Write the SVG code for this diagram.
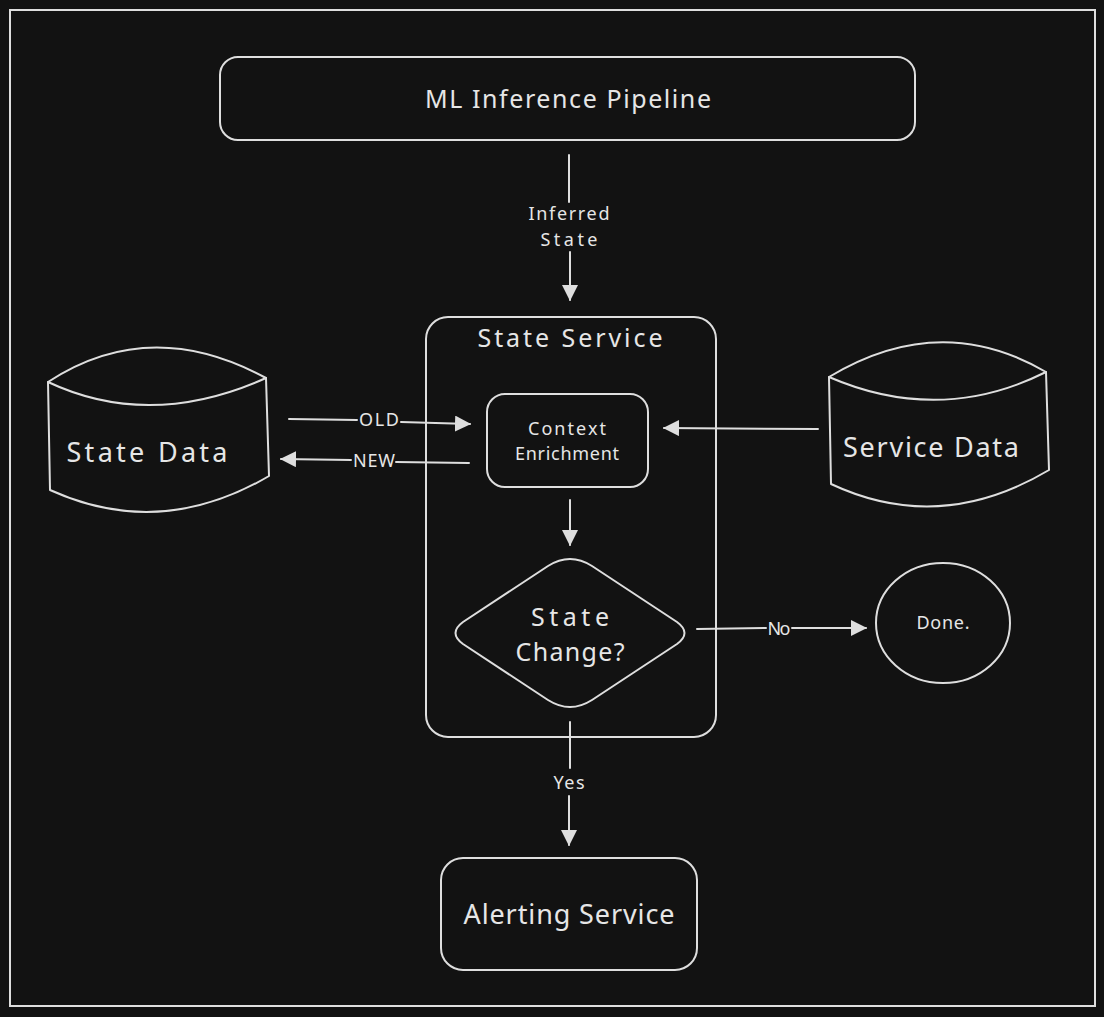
<svg xmlns="http://www.w3.org/2000/svg" width="1104" height="1017" viewBox="0 0 1104 1017">
<defs>
<style>
.s{fill:none;stroke:#dedede;stroke-width:2;stroke-linecap:round;stroke-linejoin:round}
.n{fill:#121212;stroke:#dedede;stroke-width:2;stroke-linejoin:round}
.t{fill:#e6e6e6;font-family:"Noto Sans","Liberation Sans",sans-serif;text-anchor:middle;dominant-baseline:central}
.lbl{font-size:18px}
</style>
<marker id="ah" viewBox="0 0 16 16" refX="15" refY="8" markerWidth="16" markerHeight="16" markerUnits="userSpaceOnUse" orient="auto">
<path d="M0,0 L16,8 L0,16 Z" fill="#dedede"/>
</marker>
</defs>
<rect x="0" y="0" width="1104" height="1017" fill="#121212"/>
<rect x="10" y="10" width="1085" height="996" fill="none" stroke="#dedede" stroke-width="2"/>

<g id="ml-pipeline">
<rect class="n" x="220" y="57" width="695" height="83" rx="18"/>
<text class="t" x="568" y="98" font-size="25" textLength="286" lengthAdjust="spacing">ML Inference Pipeline</text>
</g>

<g id="state-service">
<rect class="n" x="426" y="317" width="290" height="420" rx="22"/>
<text class="t" x="570" y="337" font-size="25" textLength="185" lengthAdjust="spacing">State Service</text>
</g>

<g id="context-enrichment">
<rect class="n" x="487" y="394" width="161" height="93" rx="18"/>
<text class="t" x="567" y="428" font-size="18" textLength="78" lengthAdjust="spacing">Context</text>
<text class="t" x="567" y="453" font-size="18" textLength="104" lengthAdjust="spacing">Enrichment</text>
</g>

<g id="state-change">
<path class="n" d="M548,566 Q570,552 592,566 L677,622 Q692,633 677,644 L592,700 Q570,714 548,700 L463,644 Q448,633 463,622 Z"/>
<text class="t" x="570" y="616" font-size="25" textLength="78" lengthAdjust="spacing">State</text>
<text class="t" x="570" y="651" font-size="25" textLength="109" lengthAdjust="spacing">Change?</text>
</g>

<g id="done">
<ellipse class="n" cx="943" cy="623" rx="67" ry="60"/>
<text class="t" x="943" y="622" font-size="18" textLength="53" lengthAdjust="spacing">Done.</text>
</g>

<g id="alerting-service">
<rect class="n" x="441" y="858" width="256" height="112" rx="22"/>
<text class="t" x="569" y="913" font-size="27" textLength="211" lengthAdjust="spacing">Alerting Service</text>
</g>

<g id="state-data">
<path class="n" d="M48,382 Q150,315 266,378 L269,476 Q160,540 50,490 Z"/>
<path class="s" d="M48,382 Q150,430 266,378"/>
<text class="t" x="147" y="451" font-size="27" textLength="161" lengthAdjust="spacing">State Data</text>
</g>

<g id="service-data">
<path class="n" d="M829,377 Q940,310 1046,372 L1049,470 Q940,535 831,484 Z"/>
<path class="s" d="M829,377 Q940,425 1046,372"/>
<text class="t" x="931" y="446" font-size="27" textLength="176" lengthAdjust="spacing">Service Data</text>
</g>

<g id="connectors">
<line class="s" x1="569" y1="155" x2="569" y2="202"/>
<line class="s" x1="570" y1="252" x2="570" y2="300" marker-end="url(#ah)"/>
<text class="t lbl" x="569" y="213" textLength="81" lengthAdjust="spacing">Inferred</text>
<text class="t lbl" x="569" y="239" textLength="57" lengthAdjust="spacing">State</text>

<line class="s" x1="289" y1="419" x2="357" y2="420"/>
<line class="s" x1="401" y1="422" x2="470" y2="424" marker-end="url(#ah)"/>
<text class="t lbl" x="379" y="419" textLength="40" lengthAdjust="spacing">OLD</text>

<line class="s" x1="469" y1="463" x2="396" y2="462"/>
<line class="s" x1="351" y1="460" x2="281" y2="459" marker-end="url(#ah)"/>
<text class="t lbl" x="374" y="460" textLength="42" lengthAdjust="spacing">NEW</text>

<line class="s" x1="818" y1="429" x2="664" y2="428" marker-end="url(#ah)"/>

<line class="s" x1="570" y1="500" x2="570" y2="545" marker-end="url(#ah)"/>

<line class="s" x1="697" y1="629" x2="766" y2="628"/>
<line class="s" x1="792" y1="628" x2="866" y2="628" marker-end="url(#ah)"/>
<text class="t lbl" x="779" y="628" textLength="23" lengthAdjust="spacing">No</text>

<line class="s" x1="570" y1="722" x2="570" y2="768"/>
<line class="s" x1="569" y1="796" x2="569" y2="845" marker-end="url(#ah)"/>
<text class="t lbl" x="569" y="782" textLength="31" lengthAdjust="spacing">Yes</text>
</g>
</svg>
